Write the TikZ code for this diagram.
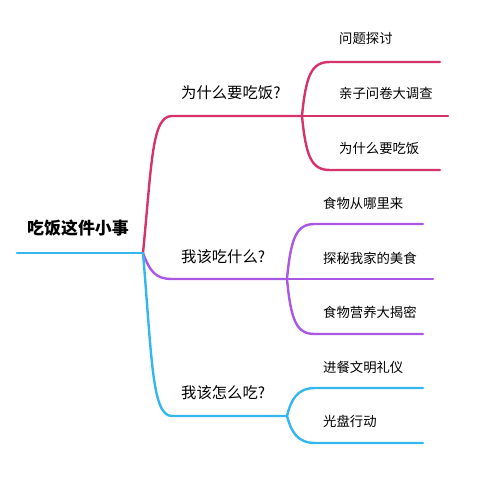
\documentclass[tikz,border=0pt]{standalone}
\usepackage{fontspec}
\setmainfont{Noto Sans CJK SC}
\usetikzlibrary{positioning}
\definecolor{rose}{RGB}{214,51,108}
\definecolor{lilac}{RGB}{170,88,228}
\definecolor{sky}{RGB}{52,182,238}
\tikzset{
  rootnode/.style = {inner sep=0pt, anchor=west,
    font=\fontsize{17}{20}\selectfont\bfseries},
  topicnode/.style = {inner sep=0pt, anchor=west,
    font=\fontsize{15.4}{18}\selectfont},% branche
  leafnode/.style = {inner sep=0pt, anchor=west,
    font=\fontsize{13.4}{16}\selectfont},% feuille
  wire/.style = {line width=2.4pt, line cap=round}
}

\begin{document}
\begin{tikzpicture}[x=1bp, y=-1bp]
  \useasboundingbox (0,0) rectangle (480,480);
  % points
  \coordinate (start) at (17,253);
  \coordinate (hub) at (143,253);
  \coordinate (wA) at (172,116); \coordinate (jA) at (302,116);
  \coordinate (wB) at (172,279); \coordinate (jB) at (287,279);
  \coordinate (wC) at (172,416); \coordinate (jC) at (287,416);
  % texts
  \node [rootnode] (root) at (27,228) {吃饭这件小事};
  \node [topicnode] (tA) at (181,93) {为什么要吃饭?};
  \node [topicnode] (tB) at (181,257) {我该吃什么?};
  \node [topicnode] (tC) at (181,393) {我该怎么吃?};
  \node [leafnode] (a1) at (339,38) {问题探讨};
  \node [leafnode] (a2) at (339,93) {亲子问卷大调查};
  \node [leafnode] (a3) at (339,148) {为什么要吃饭};
  \node [leafnode] (b1) at (323,203) {食物从哪里来};
  \node [leafnode] (b2) at (323,258) {探秘我家的美食};
  \node [leafnode] (b3) at (323,312) {食物营养大揭密};
  \node [leafnode] (c1) at (323,367) {进餐文明礼仪};
  \node [leafnode] (c2) at (323,421) {光盘行动};
  % root
  \draw [wire, sky] (start) -- (hub);
  % branch A
  \draw [wire, rose] (hub) .. controls (152,160) and (152,116) .. (wA) -- (jA);
  \draw [wire, rose] (jA) .. controls (306,74) and (312,62) .. (330,62) -- (440,62);
  \draw [wire, rose] (jA) -- (448,116);
  \draw [wire, rose] (jA) .. controls (306,158) and (312,170) .. (330,170) -- (440,170);
  % branch B
  \draw [wire, lilac] (hub) .. controls (150,272) and (156,279) .. (wB) -- (jB);
  \draw [wire, lilac] (jB) .. controls (291,236) and (297,224) .. (315,224) -- (423,224);
  \draw [wire, lilac] (jB) -- (433,279);
  \draw [wire, lilac] (jB) .. controls (291,322) and (297,334) .. (315,334) -- (423,334);
  % branch C
  \draw [wire, sky] (hub) .. controls (152,360) and (152,416) .. (wC) -- (jC);
  \draw [wire, sky] (jC) .. controls (291,400) and (297,388) .. (315,388) -- (423,388);
  \draw [wire, sky] (jC) .. controls (291,431) and (297,443) .. (315,443) -- (423,443);
\end{tikzpicture}
\end{document}
